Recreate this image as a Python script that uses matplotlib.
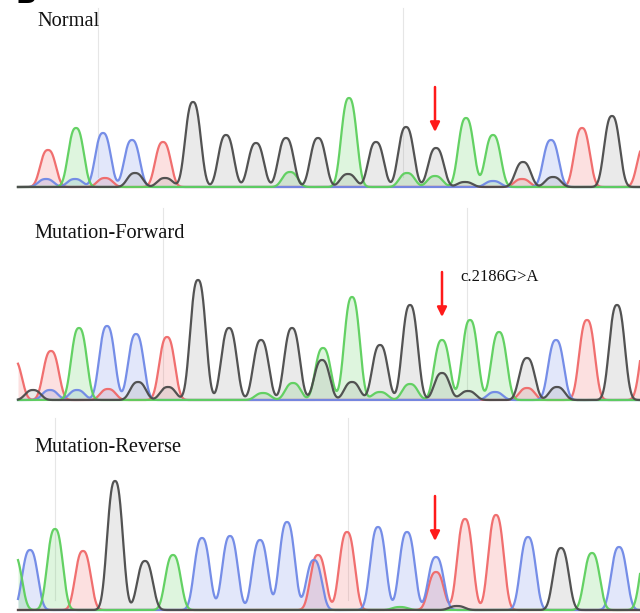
import numpy as np
import matplotlib
matplotlib.use("Agg")
import matplotlib.pyplot as plt

# ---------------- data (peak position, base call, peak height) ----------------
normal_pos = [48, 76, 103, 132, 163, 193, 226, 256, 286, 318, 349, 376, 406, 436, 466, 493, 523, 551, 582, 612, 645]
normal_base = ['T', 'A', 'C', 'C', 'T', 'G', 'G', 'G', 'G', 'G', 'A', 'G', 'G', 'G', 'A', 'A', 'G', 'C', 'T', 'G', 'T']
normal_height = [37, 59, 54, 47, 45, 85, 52, 44, 49, 49, 89, 45, 60, 39, 69, 52, 25, 47, 59, 71, 42]
normal_minor_pos = [46, 75, 105, 135, 165, 290, 348, 407, 435, 465, 493, 522, 553]
normal_minor_base = ['C', 'C', 'T', 'G', 'G', 'A', 'G', 'A', 'A', 'G', 'C', 'T', 'G']
normal_minor_height = [8, 8, 9, 14, 9, 15, 13, 14, 11, 5, 6, 8, 10]

fwd_pos = [14, 51, 79, 107, 136, 167, 198, 229, 261, 292, 323, 352, 380, 410, 442, 470, 499, 527, 556, 587, 617, 648]
fwd_base = ['T', 'T', 'A', 'C', 'C', 'T', 'G', 'G', 'G', 'G', 'A', 'A', 'G', 'G', 'A', 'A', 'A', 'G', 'C', 'T', 'G', 'T']
fwd_height = [40, 49, 72, 74, 66, 63, 120, 72, 60, 72, 52, 103, 55, 95, 60, 80, 68, 42, 60, 80, 95, 70]
fwd_minor_pos = [33, 50, 77, 108, 138, 168, 263, 293, 322, 352, 380, 410, 442, 468, 495, 527, 557]
fwd_minor_base = ['G', 'C', 'C', 'T', 'G', 'G', 'A', 'A', 'G', 'G', 'A', 'A', 'G', 'G', 'C', 'T', 'G']
fwd_minor_height = [10, 10, 10, 11, 18, 13, 7, 17, 40, 18, 8, 16, 27, 9, 8, 12, 13]

rev_pos = [14, 30, 55, 83, 115, 145, 173, 202, 230, 260, 287, 314, 318, 347, 378, 407, 436, 465, 496, 528, 561, 592, 619, 648]
rev_base = ['A', 'C', 'A', 'T', 'G', 'G', 'A', 'C', 'C', 'C', 'C', 'C', 'T', 'T', 'C', 'C', 'C', 'T', 'T', 'C', 'G', 'A', 'C', 'A']
rev_height = [55, 60, 81, 59, 129, 49, 55, 72, 74, 70, 88, 50, 55, 78, 83, 78, 53, 91, 95, 73, 62, 57, 63, 65]
rev_minor_pos = [436, 457, 400]
rev_minor_base = ['T', 'G', 'A']
rev_minor_height = [38, 4, 3]

titles = ['Normal', 'Mutation-Forward', 'Mutation-Reverse']
mutation_label = 'c.2186G>A'
arrow_x = [435, 442, 435]
arrow_from = [100, 128, 114]
arrow_to = [55, 83, 69]
guide_x = [[98, 403], [163, 467], [55, 348]]

colors = {'A': '#5ccf5c', 'C': '#6f88e6', 'G': '#4a4a4a', 'T': '#f06868'}
fills = {'A': '#5ccf5c', 'C': '#6f88e6', 'G': '#9a9a9a', 'T': '#f06868'}

W, H = 640, 613
fig = plt.figure(figsize=(W / 100, H / 100), dpi=100)

# panel layout in pixels: (top, bottom, baseline)
panels = [(0, 190, 187), (200, 403, 400), (410, 613, 610)]
datasets = [
    (normal_pos, normal_base, normal_height, normal_minor_pos, normal_minor_base, normal_minor_height),
    (fwd_pos, fwd_base, fwd_height, fwd_minor_pos, fwd_minor_base, fwd_minor_height),
    (rev_pos, rev_base, rev_height, rev_minor_pos, rev_minor_base, rev_minor_height),
]
title_y = [22, 233, 448]
title_x = [37, 34, 34]

width_a, shape_p = 9.8, 2.6
xg = np.linspace(18, 640, 2500)

for i, ((top, bot, base), data) in enumerate(zip(panels, datasets)):
    ax = fig.add_axes([0, 1 - bot / H, 1, (bot - top) / H])
    ax.set_xlim(0, 640)
    ax.set_ylim(-(bot - base), base - top)
    ax.axis('off')
    pos, bases, hts, mpos, mbases, mhts = data
    allp = list(pos) + list(mpos)
    allb = list(bases) + list(mbases)
    allh = list(hts) + list(mhts)
    for gx in guide_x[i]:
        ax.plot([gx, gx], [10, base - top - 8], color='#e6e6e6', lw=0.8, zorder=0)
    for ch in ['T', 'C', 'A', 'G']:
        y = np.zeros_like(xg)
        for p, b, h in zip(allp, allb, allh):
            if b == ch:
                y += h * np.exp(-(np.abs(xg - p) / width_a) ** shape_p)
        ax.fill_between(xg, 0, y, color=fills[ch], alpha=0.2, lw=0, zorder=1)
        ax.plot(xg, y, color=colors[ch], lw=1.6, alpha=0.95, zorder=2)
    ax.text(title_x[i], base - title_y[i], titles[i], fontsize=14.7,
            family=['Liberation Serif', 'DejaVu Serif'], va='center', ha='left', color='#111111')
    ax.annotate('', xy=(arrow_x[i], arrow_to[i]), xytext=(arrow_x[i], arrow_from[i]),
                arrowprops=dict(arrowstyle='-|>', color='#ff1a1a', lw=1.8, mutation_scale=14,
                                shrinkA=0, shrinkB=0), zorder=5)
    if i == 1:
        ax.text(460, base - 277, mutation_label, fontsize=12,
                family=['Liberation Serif', 'DejaVu Serif'], va='center', ha='left', color='#111111')

fig.text(16 / W, 1 - 3 / H, 'B', fontsize=20, fontweight='bold', family='DejaVu Sans',
         va='baseline', ha='left')

fig.savefig('out.png', dpi=100)
